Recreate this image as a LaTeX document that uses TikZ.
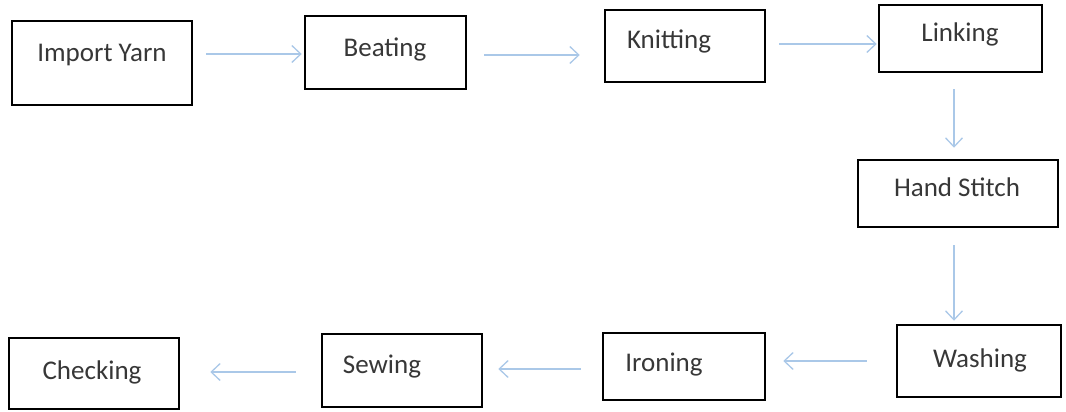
\documentclass[tikz,border=0pt]{standalone}
\usepackage{fontspec}
\setmainfont{Carlito}
\usetikzlibrary{arrows.meta}
\definecolor{arrblue}{RGB}{170,200,232}
\definecolor{txtgray}{RGB}{55,55,55}
\tikzset{
  boxnode/.style={draw=black, line width=2.5pt, rectangle, inner sep=0pt},
  lbl/.style={text=txtgray, font=\fontsize{27}{32}\selectfont, anchor=mid, inner sep=0pt},
  arr/.style={draw=arrblue, line width=1.3pt, -{Straight Barb[length=9pt,width=17pt]}}
}
\newcommand{\boxat}[5]{% name, x1, y1, x2, y2
  \node[boxnode, minimum width={#4-#2}, minimum height={#5-#3}] (#1) at ({(#2+#4)/2},{(#3+#5)/2}) {};}
\begin{document}
\begin{tikzpicture}[x=1pt,y=-1pt]
\useasboundingbox (0,0) rectangle (1066,412);
% boxes
\boxat{iy}{12}{21}{192}{105}
\boxat{be}{305}{16}{466}{89}
\boxat{kn}{605}{10}{765}{82}
\boxat{li}{879}{5}{1042}{72}
\boxat{hs}{858}{160}{1058}{227}
\boxat{wa}{897}{325}{1061}{397}
\boxat{ir}{603}{333}{765}{400}
\boxat{se}{322}{334}{482}{407}
\boxat{ch}{9}{338}{179}{409}
% labels
\node[lbl] (iyt) at (102,59) {Import Yarn};
\node[lbl] (bet) at (385,54) {Beating};
\node[lbl] (knt) at (669,46) {Knitting};
\node[lbl] (lit) at (960,39) {Linking};
\node[lbl] (hst) at (957,194) {Hand Stitch};
\node[lbl] (wat) at (980,365) {Washing};
\node[lbl] (irt) at (664,369) {Ironing};
\node[lbl] (set) at (382,371) {Sewing};
\node[lbl] (cht) at (92,377) {Checking};
% connectors
\draw[arr, shorten <=13pt, shorten >=2pt] ([yshift=-1.5pt]be.west -| iy.east) -- ([yshift=-1.5pt]be.west);
\draw[arr, shorten <=17pt, shorten >=24pt] ([yshift=-2.5pt]be.east) -- ([yshift=-2.5pt]be.east -| kn.west);
\draw[arr, shorten <=13pt, shorten >=1pt] ([yshift=2pt]kn.east) -- ([yshift=2pt]kn.east -| li.west);
\draw[arr, shorten <=16pt, shorten >=11pt] ([xshift=-6.5pt]li.south) -- ([xshift=-6.5pt]li.south |- hs.north);
\draw[arr, shorten <=17pt, shorten >=3pt] ([xshift=-4pt]hs.south) -- ([xshift=-4pt]hs.south |- wa.north);
\draw[arr, shorten <=29pt, shorten >=17pt] (wa.west) -- (wa.west -| ir.east);
\draw[arr, shorten <=21pt, shorten >=15pt] ([yshift=-2.5pt]ir.west) -- ([yshift=-2.5pt]ir.west -| se.east);
\draw[arr, shorten <=25pt, shorten >=30pt] ([yshift=-1.5pt]se.west) -- ([yshift=-1.5pt]se.west -| ch.east);
\end{tikzpicture}
\end{document}
